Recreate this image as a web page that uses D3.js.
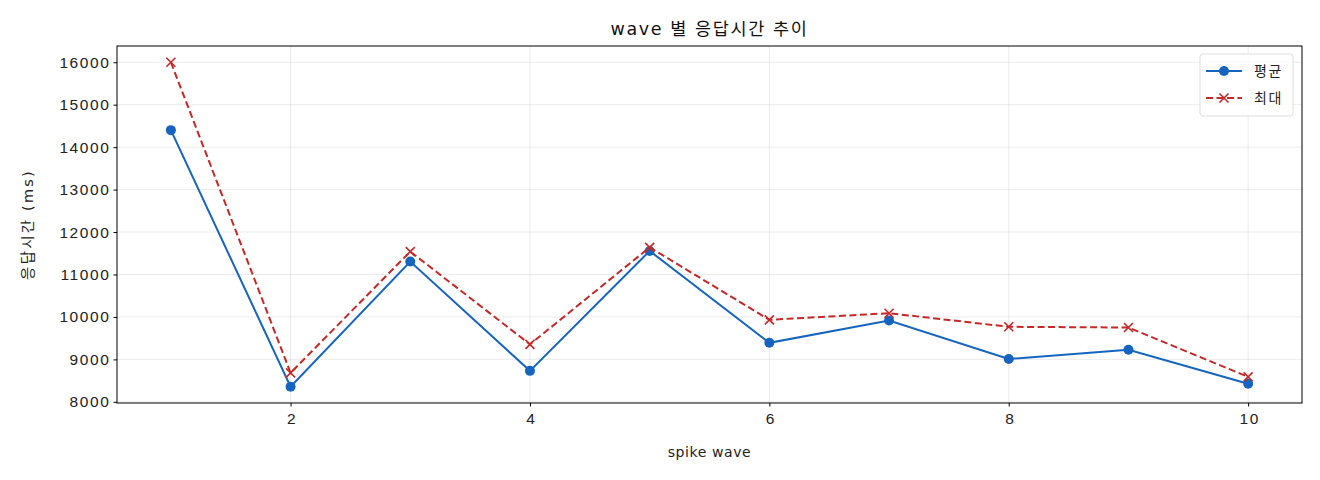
<!DOCTYPE html>
<html>
<head>
<meta charset="utf-8">
<script src="https://cdn.jsdelivr.net/npm/d3@7"></script>
<style>
  body { margin: 0; background: #fff; }
  svg { font-family: "DejaVu Sans", "Noto Sans CJK KR", sans-serif; }
</style>
</head>
<body>
<div id="chart"></div>
<script>
// wave numbers and response times (ms)
const waves = [1, 2, 3, 4, 5, 6, 7, 8, 9, 10]
const avgMs = [14400, 8355, 11305, 8730, 11555, 9390, 9915, 9010, 9228, 8425]
const maxMs = [16000, 8682, 11540, 9355, 11640, 9932, 10088, 9768, 9751, 8588]
const xTicks = [2, 4, 6, 8, 10]
const yTicks = [8000, 9000, 10000, 11000, 12000, 13000, 14000, 15000, 16000]
const seriesNames = ["평균", "최대"]

const width = 1320, height = 480
const margin = { top: 46, right: 18, bottom: 77, left: 117 }

const svg = d3.select("#chart").append("svg")
  .attr("width", width).attr("height", height)

// matplotlib style 5% padding
const xPad = (d3.max(waves) - d3.min(waves)) * 0.05
const allY = avgMs.concat(maxMs)
const yPad = (d3.max(allY) - d3.min(allY)) * 0.05

const x = d3.scaleLinear()
  .domain([d3.min(waves) - xPad, d3.max(waves) + xPad])
  .range([margin.left, width - margin.right])

const y = d3.scaleLinear()
  .domain([d3.min(allY) - yPad, d3.max(allY) + yPad])
  .range([height - margin.bottom, margin.top])

// grid
const grid = svg.append("g").attr("stroke", "#000").attr("stroke-opacity", 0.1).attr("stroke-width", 0.8)
grid.selectAll("line.gx").data(xTicks).join("line")
  .attr("x1", d => x(d)).attr("x2", d => x(d))
  .attr("y1", margin.top).attr("y2", height - margin.bottom)
grid.selectAll("line.gy").data(yTicks).join("line")
  .attr("y1", d => y(d)).attr("y2", d => y(d))
  .attr("x1", margin.left).attr("x2", width - margin.right)

const tickText = g => g.selectAll("text")
  .attr("font-size", 15.5).attr("fill", "#222")
  .attr("font-family", "inherit").attr("letter-spacing", 1.6)

// axes
svg.append("g")
  .attr("transform", `translate(0,${height - margin.bottom})`)
  .call(d3.axisBottom(x).tickValues(xTicks).tickFormat(d3.format("d")).tickSize(3.5).tickPadding(6).tickSizeOuter(0))
  .call(g => g.select(".domain").remove())
  .call(tickText)
  .call(g => g.selectAll("text").attr("dx", 1))

svg.append("g")
  .attr("transform", `translate(${margin.left},0)`)
  .call(d3.axisLeft(y).tickValues(yTicks).tickFormat(d3.format("d")).tickSize(3.5).tickPadding(3).tickSizeOuter(0))
  .call(g => g.select(".domain").remove())
  .call(tickText)

// frame
svg.append("rect")
  .attr("x", margin.left).attr("y", margin.top)
  .attr("width", width - margin.left - margin.right)
  .attr("height", height - margin.top - margin.bottom)
  .attr("fill", "none").attr("stroke", "#000").attr("stroke-width", 1)

const line = d3.line().x((d, i) => x(waves[i])).y(d => y(d))

const blue = "#1565c0", red = "#c62828"

// average series
svg.append("path").datum(avgMs)
  .attr("d", line).attr("fill", "none")
  .attr("stroke", blue).attr("stroke-width", 2)
svg.append("g").selectAll("circle").data(avgMs).join("circle")
  .attr("cx", (d, i) => x(waves[i])).attr("cy", d => y(d))
  .attr("r", 5).attr("fill", blue)

// max series
svg.append("path").datum(maxMs)
  .attr("d", line).attr("fill", "none")
  .attr("stroke", red).attr("stroke-width", 2)
  .attr("stroke-dasharray", "7,3.5")
const cross = (g, cx, cy, s) => {
  g.append("path")
    .attr("d", `M${cx - s},${cy - s}L${cx + s},${cy + s}M${cx - s},${cy + s}L${cx + s},${cy - s}`)
    .attr("stroke", red).attr("stroke-width", 1.6).attr("fill", "none")
}
const crosses = svg.append("g")
maxMs.forEach((d, i) => cross(crosses, x(waves[i]), y(d), 4.5))

// labels
svg.append("text")
  .attr("x", (margin.left + width - margin.right) / 2).attr("y", 35)
  .attr("text-anchor", "middle").attr("font-size", 17.5).attr("fill", "#111")
  .attr("letter-spacing", 1.6)
  .text("wave 별 응답시간 추이")

svg.append("text")
  .attr("x", (margin.left + width - margin.right) / 2).attr("y", 457)
  .attr("text-anchor", "middle").attr("font-size", 14).attr("fill", "#222")
  .attr("letter-spacing", 0.6)
  .text("spike wave")

svg.append("text")
  .attr("transform", `translate(33,${(margin.top + height - margin.bottom) / 2}) rotate(-90)`)
  .attr("text-anchor", "middle").attr("font-size", 14.5).attr("fill", "#222")
  .attr("letter-spacing", 2.2)
  .text("응답시간 (ms)")

// legend
const lg = svg.append("g").attr("transform", "translate(1200,54)")
lg.append("rect").attr("width", 93).attr("height", 62).attr("rx", 3)
  .attr("fill", "#fff").attr("fill-opacity", 0.8)
  .attr("stroke", "#ddd").attr("stroke-width", 1)
lg.append("line").attr("x1", 6).attr("x2", 42).attr("y1", 17).attr("y2", 17)
  .attr("stroke", blue).attr("stroke-width", 2)
lg.append("circle").attr("cx", 24).attr("cy", 17).attr("r", 5).attr("fill", blue)
lg.append("line").attr("x1", 6).attr("x2", 42).attr("y1", 44).attr("y2", 44)
  .attr("stroke", red).attr("stroke-width", 2).attr("stroke-dasharray", "7,3.5")
cross(lg, 24, 44, 4.5)
lg.selectAll("text.l").data(seriesNames).join("text")
  .attr("x", 54).attr("y", (d, i) => 22 + i * 27)
  .attr("font-size", 14).attr("fill", "#222").attr("letter-spacing", 1.5)
  .text(d => d)
</script>
</body>
</html>
